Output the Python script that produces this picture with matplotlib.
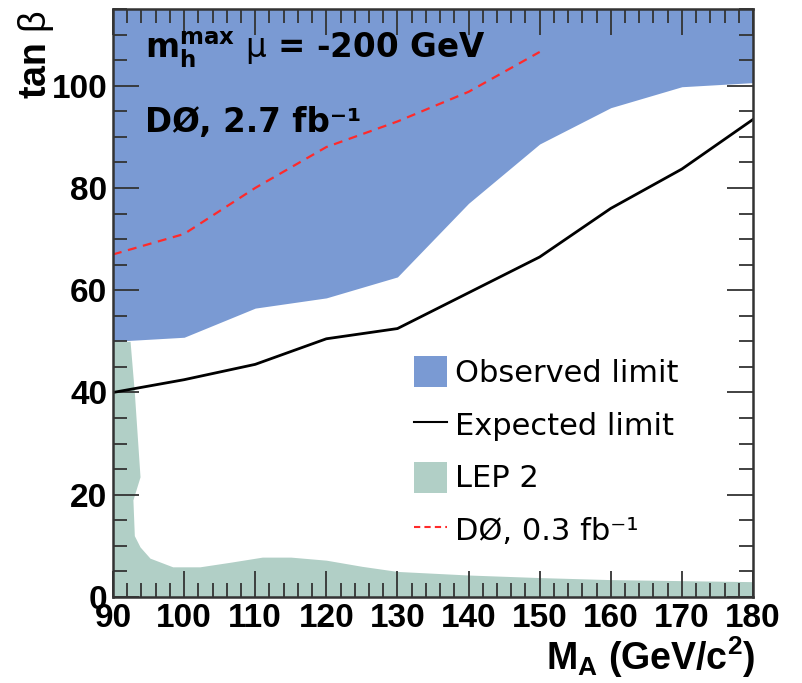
import numpy as np
import matplotlib
matplotlib.use("Agg")
import matplotlib.pyplot as plt
from matplotlib.ticker import MultipleLocator
from matplotlib.patches import Patch
from matplotlib.lines import Line2D

plt.rcParams["font.family"] = ["Liberation Sans", "DejaVu Sans"]
plt.rcParams["mathtext.fontset"] = "custom"
plt.rcParams["mathtext.rm"] = "Liberation Sans"
plt.rcParams["mathtext.bf"] = "Liberation Sans:bold"

# ── data ──────────────────────────────────────────────────────────────────────
mass          = [90, 100, 110, 120, 130, 140, 150, 160, 170, 180]
observed      = [50.0, 50.8, 56.5, 58.5, 62.6, 77.0, 88.6, 95.7, 99.8, 100.6]
expected      = [40.0, 42.5, 45.5, 50.5, 52.5, 59.5, 66.5, 76.0, 83.7, 93.4]
old_mass      = [90, 100, 110, 120, 130, 140, 150]
old_limit     = [67.0, 71.0, 80.0, 88.0, 93.0, 98.8, 106.6]
lep_mass      = [90, 92.4, 93.0, 93.8, 92.8, 93.0, 93.8, 95.2, 98.4, 102.2, 106.5,
                 111.0, 115.0, 120.0, 125.0, 130.0, 140.0, 150.0, 160.0, 170.0, 180.0]
lep_limit     = [50.0, 50.0, 40.0, 23.5, 19.0, 12.0, 9.8, 7.6, 5.9, 5.9, 6.8,
                 7.8, 7.8, 7.2, 6.0, 5.0, 4.3, 3.8, 3.4, 3.2, 3.0]

BLUE  = "#7a9ad3"
GREEN = "#b1cfc6"
RED   = "#ff2a2a"
W, H = 803, 683

fig = plt.figure(figsize=(W / 100, H / 100), dpi=100)
ax = fig.add_axes([113 / W, 1 - 597 / H, 640 / W, 588 / H])

ax.fill_between(mass, observed, 115, color=BLUE, lw=0, zorder=1)
ax.fill_between(lep_mass, 0, lep_limit, color=GREEN, lw=0, zorder=1)
ax.plot(mass, expected, color="black", lw=2, zorder=3)
ax.plot(old_mass, old_limit, color=RED, lw=1.6, ls=(0, (4, 3)), zorder=3)

ax.set_xlim(90, 180)
ax.set_ylim(0, 115)
ax.xaxis.set_major_locator(MultipleLocator(10))
ax.xaxis.set_minor_locator(MultipleLocator(2))
ax.yaxis.set_major_locator(MultipleLocator(20))
ax.yaxis.set_minor_locator(MultipleLocator(5))
ax.tick_params(which="both", direction="in", top=True, right=True, width=1.3,
               color="#333333", labelsize=24)
ax.tick_params(which="major", length=19, pad=4)
ax.tick_params(which="minor", length=10)
for lab in ax.get_xticklabels() + ax.get_yticklabels():
    lab.set_fontweight("bold")
for sp in ax.spines.values():
    sp.set_linewidth(1.8)
    sp.set_color("#333333")
    sp.set_zorder(5)

# in-plot labels
fig.text(145 / W, 1 - 58 / H, r"$\mathbf{m}_{\mathbf{h}}^{\mathbf{max}}$ $\mathrm{\mu}$ = -200 GeV",
         fontsize=23.5, fontweight="bold", family="DejaVu Sans", math_fontfamily="dejavusans",
         va="baseline", ha="left")
fig.text(145 / W, 1 - 132 / H, "DØ, 2.7 fb⁻¹", fontsize=23.5, fontweight="bold",
         family="DejaVu Sans", va="baseline", ha="left")

# axis titles
fig.text(36 / W, 1 - 10 / H, r"tan $\mathrm{\beta}$", rotation=90, fontsize=27,
         fontweight="bold", ha="center", va="top")
fig.text(755 / W, 1 - 670 / H, r"M$_{\mathbf{A}}$ (GeV/c$^{\mathbf{2}}$)", fontsize=27,
         fontweight="bold", ha="right", va="baseline")

handles = [Patch(facecolor=BLUE, edgecolor="none"),
           Line2D([], [], color="black", lw=1.5),
           Patch(facecolor=GREEN, edgecolor="none"),
           Line2D([], [], color=RED, lw=1.5, ls=(0, (3, 2)))]
labels = ["Observed limit", "Expected limit", "LEP 2", "DØ, 0.3 fb⁻¹"]
fig.legend(handles, labels, loc="upper left", bbox_to_anchor=(414 / W, 1 - 356 / H),
           bbox_transform=fig.transFigure, frameon=False,
           prop={"family": "DejaVu Sans", "size": 22},
           handlelength=1.08, handleheight=1.2, handletextpad=0.26,
           labelspacing=0.68, borderpad=0, borderaxespad=0)

fig.savefig("out.png", dpi=100)
